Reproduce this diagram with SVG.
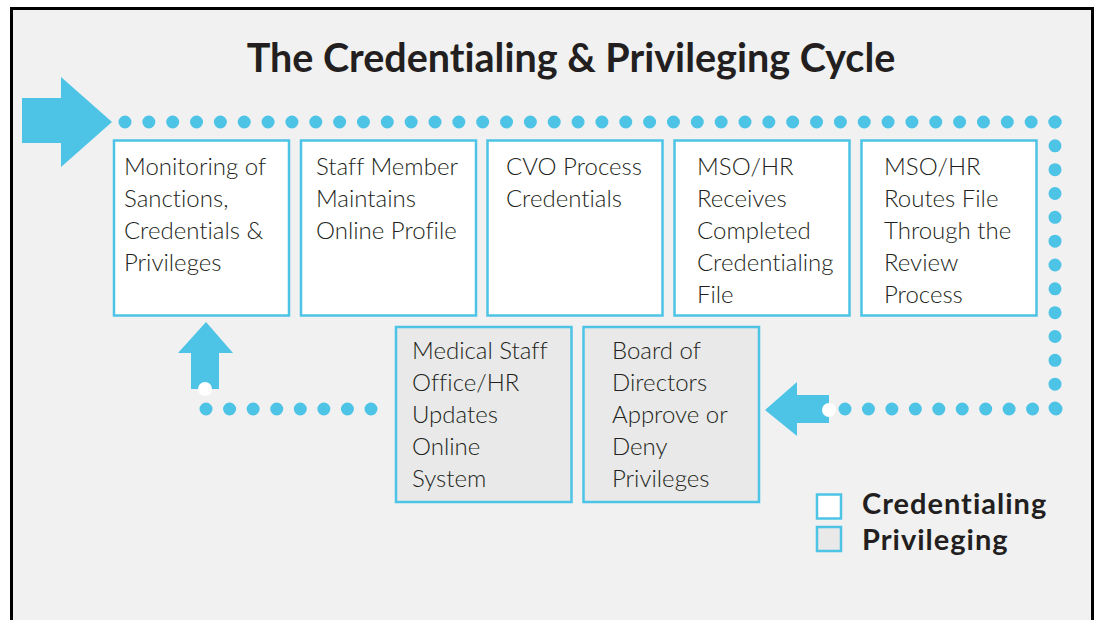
<svg xmlns="http://www.w3.org/2000/svg" width="1099" height="620" viewBox="0 0 1099 620">
<style>
text{font-variant-ligatures:none}
.box{stroke:#4dc3e6;stroke-width:2.5}
.cred{fill:#ffffff}
.priv{fill:#e8e9e8}
.t{font-family:Lato,"Liberation Sans",sans-serif;font-size:24px;font-weight:300;fill:#231f20}
.title{font-family:Lato,"Liberation Sans",sans-serif;font-size:39.5px;font-weight:700;fill:#231f20}
.leg{font-family:Lato,"Liberation Sans",sans-serif;font-size:29px;font-weight:700;fill:#231f20;letter-spacing:1px}
.dots{fill:none;stroke:#4dc3e6;stroke-width:13;stroke-linecap:round}
.arrow{fill:#4dc3e6}
</style>
<rect x="0" y="0" width="1099" height="620" fill="#ffffff"/>
<rect x="11.5" y="8.5" width="1081" height="700" fill="#f1f1f1" stroke="#000" stroke-width="3"/>
<text class="title" x="571" y="72" text-anchor="middle">The Credentialing &amp; Privileging Cycle</text>
<g id="connectors">
<polygon class="arrow" points="22,98 61,98 61,77 112,122 61,167 61,143 22,143"/>
<line class="dots" x1="125" y1="122" x2="1055" y2="122" stroke-dasharray="0 23.846"/>
<line class="dots" x1="1055" y1="122" x2="1055" y2="408" stroke-dasharray="0 23.833"/>
<line class="dots" x1="1056" y1="409" x2="845" y2="409" stroke-dasharray="0 23.444"/>
<polygon class="arrow" points="765,410 797,382 797,395 829,395 829,423 797,423 797,436"/>
<circle cx="829" cy="410" r="7" fill="#ffffff"/>
<line class="dots" x1="371" y1="409" x2="206" y2="409" stroke-dasharray="0 23.571"/>
<polygon class="arrow" points="206,322 233,353 219,353 219,389 191,389 191,353 178,353"/>
<circle cx="205" cy="389" r="7" fill="#ffffff"/>
</g>
<g id="n1">
<rect class="box cred" x="114" y="140.5" width="175" height="175"/>
<text class="t"><tspan x="124" y="175">Monitoring of</tspan><tspan x="124" y="207">Sanctions,</tspan><tspan x="124" y="239">Credentials &amp;</tspan><tspan x="124" y="271">Privileges</tspan></text>
</g>
<g id="n2">
<rect class="box cred" x="301" y="140.5" width="175" height="175"/>
<text class="t"><tspan x="316" y="175">Staff Member</tspan><tspan x="316" y="207">Maintains</tspan><tspan x="316" y="239">Online Profile</tspan></text>
</g>
<g id="n3">
<rect class="box cred" x="487.5" y="140.5" width="175" height="175"/>
<text class="t"><tspan x="506" y="175">CVO Process</tspan><tspan x="506" y="207">Credentials</tspan></text>
</g>
<g id="n4">
<rect class="box cred" x="674.5" y="140.5" width="175" height="175"/>
<text class="t"><tspan x="697" y="175">MSO/HR</tspan><tspan x="697" y="207">Receives</tspan><tspan x="697" y="239">Completed</tspan><tspan x="697" y="271">Credentialing</tspan><tspan x="697" y="303">File</tspan></text>
</g>
<g id="n5">
<rect class="box cred" x="861.5" y="140.5" width="175" height="175"/>
<text class="t"><tspan x="884" y="175">MSO/HR</tspan><tspan x="884" y="207">Routes File</tspan><tspan x="884" y="239">Through the</tspan><tspan x="884" y="271">Review</tspan><tspan x="884" y="303">Process</tspan></text>
</g>
<g id="n6">
<rect class="box priv" x="396" y="327" width="175.5" height="175"/>
<text class="t"><tspan x="412" y="359">Medical Staff</tspan><tspan x="412" y="391">Office/HR</tspan><tspan x="412" y="423">Updates</tspan><tspan x="412" y="455">Online</tspan><tspan x="412" y="487">System</tspan></text>
</g>
<g id="n7">
<rect class="box priv" x="583.5" y="327" width="175.5" height="175"/>
<text class="t"><tspan x="612" y="359">Board of</tspan><tspan x="612" y="391">Directors</tspan><tspan x="612" y="423">Approve or</tspan><tspan x="612" y="455">Deny</tspan><tspan x="612" y="487">Privileges</tspan></text>
</g>
<g id="legend">
<rect class="box cred" x="817" y="494.5" width="24" height="24"/>
<rect class="box priv" x="817" y="527" width="24" height="24"/>
<text class="leg" x="862" y="514">Credentialing</text>
<text class="leg" x="862" y="550">Privileging</text>
</g>
</svg>
